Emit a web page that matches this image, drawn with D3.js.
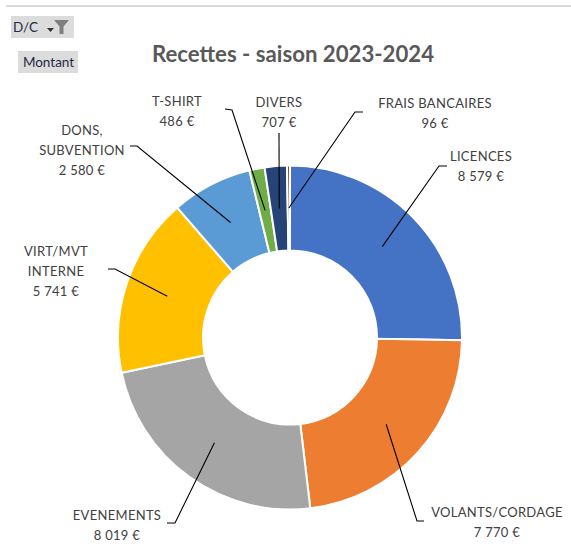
<!DOCTYPE html>
<html><head><meta charset="utf-8">
<script src="https://cdn.jsdelivr.net/npm/d3@7"></script>
<style>body{margin:0;background:#fff}svg{display:block}</style>
</head><body>
<svg id="c" width="571" height="549"></svg>
<script>
// ---- data ----
const categories = ["LICENCES","VOLANTS/CORDAGE","EVENEMENTS","VIRT/MVT INTERNE","DONS, SUBVENTION","T-SHIRT","DIVERS","FRAIS BANCAIRES"];
const values = [8579, 7770, 8019, 5741, 2580, 486, 707, 96];
const labelLines = [["LICENCES"],["VOLANTS/CORDAGE"],["EVENEMENTS"],["VIRT/MVT","INTERNE"],["DONS,","SUBVENTION"],["T-SHIRT"],["DIVERS"],["FRAIS BANCAIRES"]];
const title = "Recettes - saison 2023-2024";

// ---- styles / layout ----
const colors = ["#4472C4","#ED7D31","#A5A5A5","#FFC000","#5B9BD5","#70AD47","#264478","#9E480E"];
const cx = 290, cy = 337.5, rOuter = 172, rInner = 87;
const labelLayout = [
  {tx:481, ty:156, hook:[447,166], elbow:[439,166]},
  {tx:497, ty:512, hook:[424,521], elbow:[417,521]},
  {tx:117, ty:515, hook:[167,523], elbow:[175,523]},
  {tx:56,  ty:251, hook:[108,269], elbow:[115,269]},
  {tx:82,  ty:130, hook:[130,146], elbow:[137,146]},
  {tx:177, ty:101, hook:[225,109], elbow:[232,110]},
  {tx:279, ty:102, hook:null,      elbow:[279,133]},
  {tx:435, ty:103, hook:[363,112], elbow:[355,112]}
];
const lineH = 20;
const font = "Lato, 'Open Sans', sans-serif";

const svg = d3.select("#c");
const locale = d3.formatLocale({decimal:",", thousands:"\u202F", grouping:[3], currency:[""," €"]});
const fmt = v => locale.format(",")(v) + " €";

// top border line
svg.append("line").attr("x1",6).attr("x2",571).attr("y1",6).attr("y2",6)
  .attr("stroke","#d9d9d9").attr("stroke-width",2);

// buttons
const b1 = svg.append("g");
b1.append("rect").attr("x",11).attr("y",16).attr("width",63).attr("height",22).attr("fill","#dcdcdc");
b1.append("text").attr("x",13).attr("y",27).attr("dominant-baseline","central")
  .attr("font-family",font).attr("font-size",13.5).attr("fill","#1f2a44").text("D/C");
b1.append("path").attr("d","M47,28 h7 l-3.5,4 z").attr("fill","#333");
b1.append("path").attr("d","M54,20 h15 l-5.5,6.5 v7.5 h-4 v-7.5 z").attr("fill","#7f7f7f");
const b2 = svg.append("g");
b2.append("rect").attr("x",18).attr("y",51).attr("width",60).attr("height",22).attr("fill","#dcdcdc");
b2.append("text").attr("x",48.5).attr("y",62).attr("text-anchor","middle").attr("dominant-baseline","central")
  .attr("font-family",font).attr("font-size",13.5).attr("fill","#1f2a44").text("Montant");

// title
svg.append("text").attr("x",293).attr("y",53).attr("text-anchor","middle").attr("dominant-baseline","central")
  .attr("font-family",font).attr("font-weight","bold").attr("font-size",22.2).attr("fill","#595959").text(title);

// donut
const pie = d3.pie().sort(null).value(d => d)(values);
const arc = d3.arc().innerRadius(rInner).outerRadius(rOuter);
const mid = d3.arc().innerRadius((rInner+rOuter)/2).outerRadius((rInner+rOuter)/2);
const g = svg.append("g").attr("transform",`translate(${cx},${cy})`);
g.selectAll("path").data(pie).join("path")
  .attr("d",arc).attr("fill",(d,i)=>colors[i]).attr("stroke","#fff").attr("stroke-width",2);

// leader lines + labels
pie.forEach((d,i) => {
  const L = labelLayout[i];
  const c = mid.centroid(d);
  const pts = [[cx+c[0], cy+c[1]], L.elbow];
  if (L.hook) pts.push(L.hook);
  svg.append("path").attr("d", d3.line()(pts)).attr("fill","none").attr("stroke","#000").attr("stroke-width",1.1);
  const lines = labelLines[i].concat([fmt(values[i])]);
  const t = svg.append("text").attr("text-anchor","middle").attr("font-family",font)
    .attr("font-size",13).attr("fill","#404040").attr("letter-spacing","0.3px");
  lines.forEach((s,k) => {
    t.append("tspan").attr("x",L.tx).attr("y",L.ty + k*lineH).attr("dominant-baseline","central").text(s);
  });
});
</script>
</body></html>
